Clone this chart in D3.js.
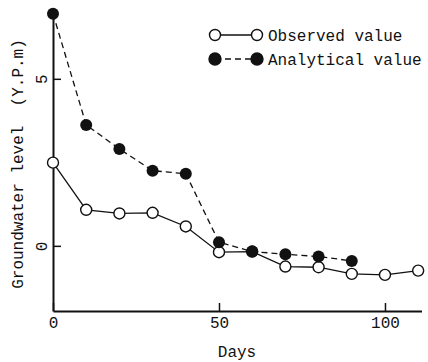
<!DOCTYPE html>
<html>
<head>
<meta charset="utf-8">
<script src="https://cdn.jsdelivr.net/npm/d3@7"></script>
<style>
  html, body { margin: 0; padding: 0; background: #fff; }
  svg text { font-family: "Liberation Mono", "DejaVu Sans Mono", monospace; fill: #111; }
</style>
</head>
<body>
<svg id="chart" width="428" height="362"></svg>
<script>
// Groundwater level (Y.P.m) against elapsed days
const days = [0, 10, 20, 30, 40, 50, 60, 70, 80, 90, 100, 110];
const observed = [2.49, 1.08, 0.97, 0.99, 0.58, -0.19, -0.17, -0.62, -0.64, -0.84, -0.87, -0.74];
const analyticalDays = [0, 10, 20, 30, 40, 50, 60, 70, 80, 90];
const analytical = [6.95, 3.62, 2.90, 2.25, 2.16, 0.11, -0.17, -0.25, -0.32, -0.45];
const xTicks = [0, 50, 100];
const yTicks = [0, 5];
const seriesNames = ["Observed value", "Analytical value"];

const svg = d3.select("#chart");
const x = d3.scaleLinear().domain([0, 111]).range([53, 421.5]);
const y = d3.scaleLinear().domain([-1.95, 7]).range([311, 12]);

// axes: left and bottom only, ticks pointing inward
const xAxis = svg.append("g").attr("transform", `translate(0,${y(-1.95)})`)
  .call(d3.axisBottom(x).tickValues(xTicks).tickSizeInner(-8).tickSizeOuter(0).tickPadding(14));
const yAxis = svg.append("g").attr("transform", `translate(${x(0)},0)`)
  .call(d3.axisLeft(y).tickValues(yTicks).tickSizeInner(-8).tickSizeOuter(0).tickPadding(0));

[xAxis, yAxis].forEach(g => {
  g.select(".domain").attr("stroke", "#111").attr("stroke-width", 2);
  g.selectAll(".tick line").attr("stroke", "#111").attr("stroke-width", 1.5);
  g.selectAll(".tick text").attr("font-size", 16).attr("fill", "#111")
    .attr("font-family", "Liberation Mono, DejaVu Sans Mono, monospace");
});
xAxis.selectAll(".tick text").attr("dy", "0.2em");
yAxis.selectAll(".tick text")
  .attr("text-anchor", "middle").attr("dy", null).attr("x", null)
  .attr("transform", "translate(-6,0) rotate(-90)");

// axis titles
svg.append("text").attr("x", x(50) + 18).attr("y", 357)
  .attr("text-anchor", "middle").attr("font-size", 16).text("Days");
svg.append("text")
  .attr("transform", `translate(23,${164}) rotate(-90)`)
  .attr("text-anchor", "middle").attr("font-size", 16)
  .style("white-space", "pre")
  .text("Groundwater level  (Y.P.m)");

const line = d3.line().x(d => x(d[0])).y(d => y(d[1]));
const obsPts = days.map((d, i) => [d, observed[i]]);
const anaPts = analyticalDays.map((d, i) => [d, analytical[i]]);

svg.append("path").datum(obsPts).attr("d", line)
  .attr("fill", "none").attr("stroke", "#111").attr("stroke-width", 1.3);
svg.append("path").datum(anaPts).attr("d", line)
  .attr("fill", "none").attr("stroke", "#111").attr("stroke-width", 1.3)
  .attr("stroke-dasharray", "6,4");

svg.append("g").selectAll("circle").data(obsPts).join("circle")
  .attr("cx", d => x(d[0])).attr("cy", d => y(d[1])).attr("r", 5.5)
  .attr("fill", "#fff").attr("stroke", "#111").attr("stroke-width", 1.4);
svg.append("g").selectAll("circle").data(anaPts).join("circle")
  .attr("cx", d => x(d[0])).attr("cy", d => y(d[1])).attr("r", 6)
  .attr("fill", "#111");

// legend
const legend = svg.append("g");
[[35, false], [59, true]].forEach(([ly, filled], i) => {
  legend.append("line").attr("x1", 215).attr("x2", 257).attr("y1", ly).attr("y2", ly)
    .attr("stroke", "#111").attr("stroke-width", 1.3)
    .attr("stroke-dasharray", filled ? "6,4" : null);
  [215, 257].forEach(cx => {
    legend.append("circle").attr("cx", cx).attr("cy", ly).attr("r", filled ? 6 : 5.5)
      .attr("fill", filled ? "#111" : "#fff").attr("stroke", "#111").attr("stroke-width", 1.4);
  });
  legend.append("text").attr("x", 268).attr("y", ly + 6).attr("font-size", 16)
    .text(seriesNames[i]);
});
</script>
</body>
</html>
